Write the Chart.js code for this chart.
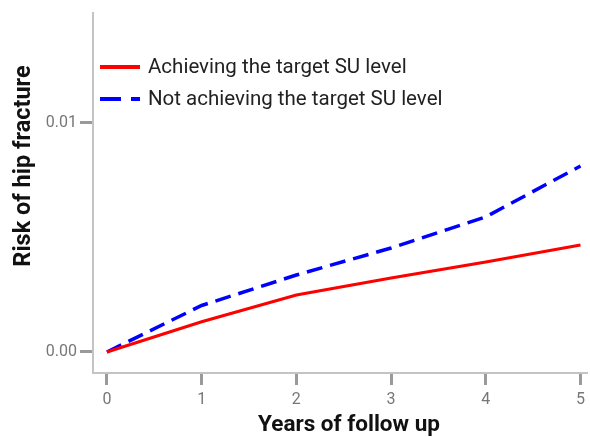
<!DOCTYPE html>
<html>
<head>
<meta charset="utf-8">
<script src="https://cdn.jsdelivr.net/npm/chart.js@4/dist/chart.umd.min.js"></script>
<style>
  html, body { margin: 0; padding: 0; background: #fff; }
  #wrap { width: 590px; height: 437px; }
</style>
</head>
<body>
<div id="wrap"><canvas id="c" width="590" height="437"></canvas></div>
<script>
// Follow-up time points (years)
const years = [0, 1, 2, 3, 4, 5];
// Cumulative risk of hip fracture per group
const achieving = [0, 0.00132, 0.00249, 0.00323, 0.00393, 0.00467];
const notAchieving = [0, 0.00203, 0.00336, 0.00454, 0.0059, 0.00812];
// Axis tick values
const xTicks = [0, 1, 2, 3, 4, 5];
const yTicks = [0, 0.01];
const yTickLabels = ['0.00', '0.01'];

const seriesLabels = ['Achieving the target SU level', 'Not achieving the target SU level'];
const xTitle = 'Years of follow up';
const yTitle = 'Risk of hip fracture';

const toPoints = (xs, ys) => xs.map((x, i) => ({ x: x, y: ys[i] }));

// Legend inside the plot area (top-left) and the two axis titles
const annotations = {
  id: 'annotations',
  afterDraw(chart) {
    const ctx = chart.ctx;
    const items = chart.data.datasets;
    const x0 = 100, y0 = 67, rowH = 32;
    ctx.save();
    items.forEach((ds, i) => {
      const y = y0 + i * rowH;
      ctx.beginPath();
      ctx.strokeStyle = ds.borderColor;
      ctx.lineWidth = 4;
      ctx.setLineDash(ds.borderDash ? [21, 10] : []);
      ctx.moveTo(x0, y);
      ctx.lineTo(x0 + 40, y);
      ctx.stroke();
      ctx.setLineDash([]);
      ctx.fillStyle = '#222';
      ctx.font = '20.5px Roboto';
      ctx.textBaseline = 'middle';
      ctx.textAlign = 'left';
      ctx.fillText(ds.label, x0 + 48, y + 1);
    });

    ctx.fillStyle = '#111';
    ctx.textAlign = 'center';
    ctx.textBaseline = 'middle';
    ctx.font = 'bold 22.5px Roboto';
    ctx.fillText(xTitle, 349, 425);

    ctx.translate(24, 166);
    ctx.rotate(-Math.PI / 2);
    ctx.font = 'bold 23.5px Roboto';
    ctx.fillText(yTitle, 0, 0);
    ctx.restore();
  }
};

new Chart(document.getElementById('c'), {
  type: 'line',
  data: {
    datasets: [
      {
        label: seriesLabels[0],
        data: toPoints(years, achieving),
        borderColor: '#ff0000',
        borderWidth: 3,
        pointRadius: 0,
        tension: 0,
        fill: false
      },
      {
        label: seriesLabels[1],
        data: toPoints(years, notAchieving),
        borderColor: '#0000ff',
        borderWidth: 3.5,
        borderDash: [16, 8],
        pointRadius: 0,
        tension: 0,
        fill: false
      }
    ]
  },
  options: {
    responsive: false,
    animation: false,
    events: [],
    layout: { padding: { top: 13, right: 0, left: 0, bottom: 0 } },
    plugins: { legend: { display: false }, tooltip: { enabled: false } },
    scales: {
      x: {
        type: 'linear',
        min: -0.147,
        max: 5.073,
        afterBuildTicks(scale) { scale.ticks = xTicks.map(v => ({ value: v })); },
        afterFit(scale) { scale.height = 64; },
        border: { display: true, color: '#c4c4c4', width: 2 },
        grid: { drawOnChartArea: false, drawTicks: true, tickLength: 12, tickWidth: 3, color: '#9a9a9a' },
        ticks: { color: '#777', font: { family: 'Roboto', size: 16 }, padding: 5, maxRotation: 0,
                 callback: v => String(v) }
      },
      y: {
        type: 'linear',
        min: -0.000917,
        max: 0.0148,
        afterBuildTicks(scale) { scale.ticks = yTicks.map(v => ({ value: v })); },
        afterFit(scale) { scale.width = 93; },
        border: { display: true, color: '#c4c4c4', width: 2 },
        grid: { drawOnChartArea: false, drawTicks: true, tickLength: 13, tickWidth: 3, color: '#9a9a9a' },
        ticks: { color: '#777', font: { family: 'Roboto', size: 16 }, padding: 3,
                 callback: (v) => { const i = yTicks.indexOf(v); return i >= 0 ? yTickLabels[i] : ''; } }
      }
    }
  },
  plugins: [annotations]
});
</script>
</body>
</html>
